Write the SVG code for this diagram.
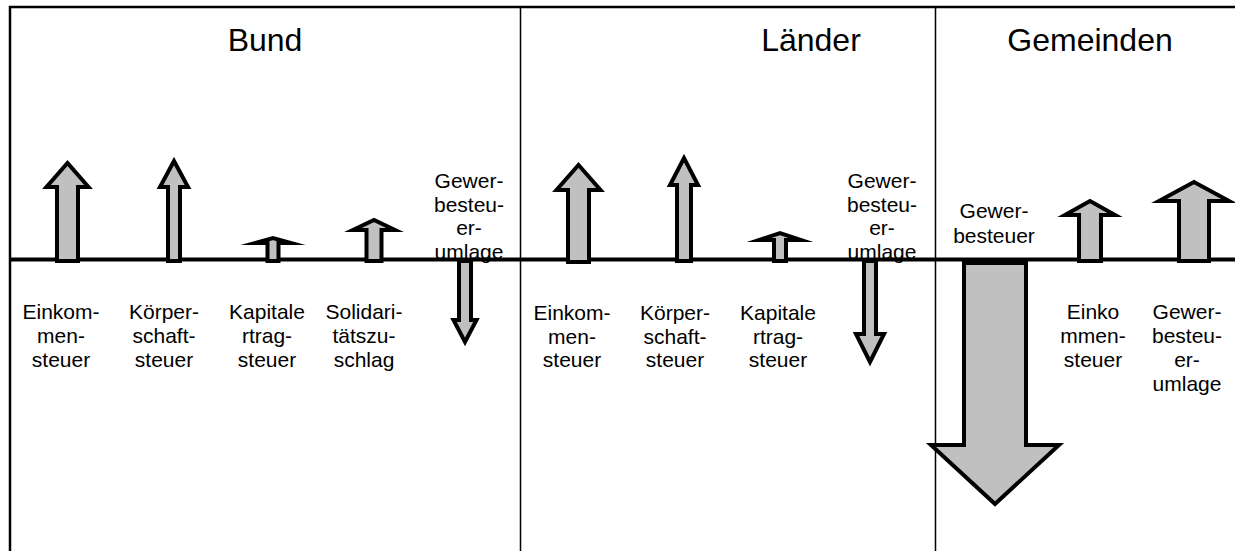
<svg xmlns="http://www.w3.org/2000/svg" width="1235" height="551" viewBox="0 0 1235 551">
<style>
.t{font-family:"Liberation Sans",Arial,sans-serif;fill:#000;text-anchor:middle}
.h{font-size:32px}
.l{font-size:21px}
.arr{fill:#c0c0c0;stroke:#000;stroke-width:4;stroke-linejoin:miter;stroke-miterlimit:10}
.frame{fill:none;stroke:#000}
</style>
<rect width="1235" height="551" fill="#fff"/>
<g id="frame">
<path class="frame" d="M10,551 V7 H1235" stroke-width="2.5"/>
<line class="frame" x1="520.5" y1="7" x2="520.5" y2="551" stroke-width="1.5"/>
<line class="frame" x1="935.5" y1="7" x2="935.5" y2="551" stroke-width="1.5"/>
</g>
<g id="titles">
<text class="t h" x="265" y="51">Bund</text>
<text class="t h" x="811" y="51">Länder</text>
<text class="t h" x="1090" y="51">Gemeinden</text>
</g>
<g id="labels">
<g id="bund-gewerbesteuerumlage-label"><text class="t l" x="469"><tspan x="469" y="188">Gewer-</tspan><tspan x="469" y="211.5">besteu-</tspan><tspan x="469" y="235">er-</tspan><tspan x="469" y="258.5">umlage</tspan></text></g>
<g id="laender-gewerbesteuerumlage-label"><text class="t l" x="882"><tspan x="882" y="188">Gewer-</tspan><tspan x="882" y="211.5">besteu-</tspan><tspan x="882" y="235">er-</tspan><tspan x="882" y="258.5">umlage</tspan></text></g>
</g>
<g id="connectors">
<line x1="10" y1="259.5" x2="1235" y2="259.5" stroke="#000" stroke-width="4"/>
</g>
<g id="bund-einkommensteuer">
<path class="arr" d="M57,261 V187 H46.5 L67.5,163 L88.5,187 H78 V261 Z"/>
<text class="t l"><tspan x="61" y="319">Einkom-</tspan><tspan x="61" y="343">men-</tspan><tspan x="61" y="367">steuer</tspan></text>
</g>
<g id="bund-koerperschaftsteuer">
<path class="arr" d="M168,261 V187 H160 L174,161 L188,187 H180 V261 Z"/>
<text class="t l"><tspan x="164" y="319">Körper-</tspan><tspan x="164" y="343">schaft-</tspan><tspan x="164" y="367">steuer</tspan></text>
</g>
<g id="bund-kapitalertragsteuer">
<path class="arr" d="M267.5,261 V243 H255 L273,238 L291,243 H278.5 V261 Z"/>
<text class="t l"><tspan x="267" y="319">Kapitale</tspan><tspan x="267" y="343">rtrag-</tspan><tspan x="267" y="367">steuer</tspan></text>
</g>
<g id="bund-solidaritaetszuschlag">
<path class="arr" d="M366.5,261 V230 H353 L374,220 L395,230 H381.5 V261 Z"/>
<text class="t l"><tspan x="364" y="319">Solidari-</tspan><tspan x="364" y="343">tätszu-</tspan><tspan x="364" y="367">schlag</tspan></text>
</g>
<g id="bund-gewerbesteuerumlage">
<path class="arr" d="M459,261 V320 H453.5 L465,342 L476.5,320 H471 V261 Z"/>
</g>
<g id="laender-einkommensteuer">
<path class="arr" d="M568,262 V190 H556.5 L578.5,165 L600.5,190 H589 V262 Z"/>
<text class="t l"><tspan x="572" y="320">Einkom-</tspan><tspan x="572" y="344">men-</tspan><tspan x="572" y="367">steuer</tspan></text>
</g>
<g id="laender-koerperschaftsteuer">
<path class="arr" d="M677,261 V185 H670 L684,158 L698,185 H691 V261 Z"/>
<text class="t l"><tspan x="675" y="320">Körper-</tspan><tspan x="675" y="344">schaft-</tspan><tspan x="675" y="367">steuer</tspan></text>
</g>
<g id="laender-kapitalertragsteuer">
<path class="arr" d="M774,261 V240 H759 L780,233 L801,240 H786 V261 Z"/>
<text class="t l"><tspan x="778" y="320">Kapitale</tspan><tspan x="778" y="344">rtrag-</tspan><tspan x="778" y="367">steuer</tspan></text>
</g>
<g id="laender-gewerbesteuerumlage">
<path class="arr" d="M864,261 V334 H856 L870,362 L884,334 H876 V261 Z"/>
</g>
<g id="gemeinden-gewerbesteuer">
<text class="t l"><tspan x="994" y="218">Gewer-</tspan><tspan x="994" y="243">besteuer</tspan></text>
<path class="arr" d="M964,263 V445 H931 L995,504 L1059,445 H1026 V263 Z"/>
</g>
<g id="gemeinden-einkommensteuer">
<path class="arr" d="M1079,261 V215 H1065 L1090,201 L1115,215 H1101 V261 Z"/>
<text class="t l"><tspan x="1093" y="319">Einko</tspan><tspan x="1093" y="343">mmen-</tspan><tspan x="1093" y="367">steuer</tspan></text>
</g>
<g id="gemeinden-gewerbesteuerumlage">
<path class="arr" d="M1179,261 V201 H1159 L1194,182 L1229,201 H1209 V261 Z"/>
<text class="t l"><tspan x="1187" y="319">Gewer-</tspan><tspan x="1187" y="343">besteu-</tspan><tspan x="1187" y="367">er-</tspan><tspan x="1187" y="391">umlage</tspan></text>
</g>
</svg>
